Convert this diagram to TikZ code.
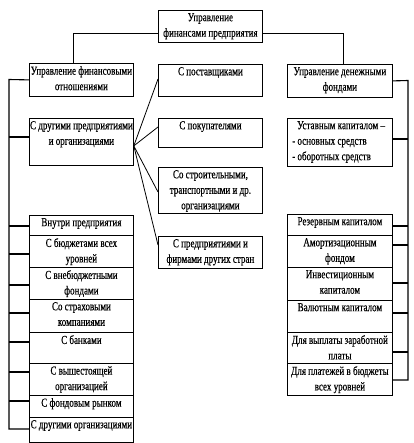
\documentclass[tikz,border=0pt]{standalone}
\usepackage{fontspec}
\setmainfont[FakeStretch=0.74,FakeBold=0.4]{Liberation Serif}
\tikzset{
  bx/.style={draw, line width=0.8pt, inner sep=0pt, anchor=north west},
  tx/.style={anchor=north, align=center, inner sep=0pt, yshift=-3pt,
     font=\fontsize{12.2}{15.5}\selectfont},
  cn/.style={line width=1.1pt}
}
% \bx{name}{x}{y}{width}{height}{text}
\newcommand\bx[6]{%
  \node[bx, minimum width=#4pt, minimum height=#5pt] (#1) at (#2,#3) {};
  \node[tx] (#1-t) at (#1.north) {#6};}
\begin{document}
\begin{tikzpicture}[x=1pt,y=-1pt]
\useasboundingbox (0,0) rectangle (413,443);
% top
\bx{top}{158}{10}{104}{32}{Управление\\финансами предприятия}
% level 2
\bx{lf}{29}{63}{104}{33}{Управление финансовыми\\отношениями}
\bx{rf}{287}{64}{105}{33}{Управление денежными\\фондами}
% middle column
\bx{m1}{158}{64}{104}{32}{С поставщиками}
\bx{m2}{158}{118}{104}{29}{С покупателями}
\bx{m3}{158}{167}{104}{46}{Со строительными,\\транспортными и др.\\организациями}
\bx{m4}{158}{236}{104}{32}{С предприятиями и\\фирмами других стран}
% left column
\bx{ld}{29}{118}{104}{47}{С другими предприятиями\\и организациями}
\bx{l1}{29}{215}{104}{20}{Внутри предприятия}
\bx{l2}{29}{235}{104}{32}{С бюджетами всех\\уровней}
\bx{l3}{29}{267}{104}{32}{С внебюджетными\\фондами}
\bx{l4}{29}{299}{104}{33}{Со страховыми\\компаниями}
\bx{l5}{29}{332}{104}{31}{С банками}
\bx{l6}{29}{363}{104}{32}{С вышестоящей\\организацией}
\bx{l7}{29}{395}{104}{22}{С фондовым рынком}
\bx{l8}{29}{417}{104}{25}{С другими организациями}
% right column
\node[bx, minimum width=105pt, minimum height=48pt] (ru) at (287,118) {};
\node[anchor=north west, align=left, inner sep=0pt, font=\fontsize{12.2}{15.5}\selectfont]
  (ru-t) at ([xshift=5pt,yshift=-3pt]ru.north west)
  {\hspace*{5pt}Уставным капиталом –\\- основных средств\\- оборотных средств};
\bx{r1}{287}{214}{105}{21}{Резервным капиталом}
\bx{r2}{287}{235}{105}{32}{Амортизационным\\фондом}
\bx{r3}{287}{267}{105}{33}{Инвестиционным\\капиталом}
\bx{r4}{287}{300}{105}{32}{Валютным капиталом}
\bx{r5}{287}{332}{105}{31}{Для выплаты заработной\\платы}
\bx{r6}{287}{363}{105}{32}{Для платежей в бюджеты\\всех уровней}
% connectors top
\draw[cn] ([yshift=-7pt]top.west) -| ([xshift=-8pt]lf.north);
\draw[cn] ([yshift=-7pt]top.east) -| ([xshift=3.5pt]rf.north);
% left trunk
\coordinate (lt) at (9,79.5);
\coordinate (lb) at (9,429);
\draw[cn] (lf.west) -- (lt) -- (lb) -- (l8.west |- lb);
\foreach \n/\y in {ld/137, l1/226, l2/254, l3/285, l4/313, l5/342, l6/372, l7/401}
  \draw[cn] (lt |- 0,\y) -- (\n.west |- 0,\y);
% right trunk
\coordinate (rt) at (408,80.5);
\coordinate (rb) at (408,380);
\draw[cn] (rf.east) -- (rt) -- (rb) -- (r6.east |- rb);
\foreach \n/\y in {ru/139, r1/226, r2/245, r3/283, r4/313, r5/352}
  \draw[cn] (rt |- 0,\y) -- (\n.east |- 0,\y);
% fan
\coordinate (fan) at ([yshift=-4pt]ld.east);
\foreach \n/\y in {m1/79, m2/127, m3/192, m4/245}
  \draw[line width=0.8pt] (fan) -- (\n.west |- 0,\y);
\end{tikzpicture}
\end{document}
